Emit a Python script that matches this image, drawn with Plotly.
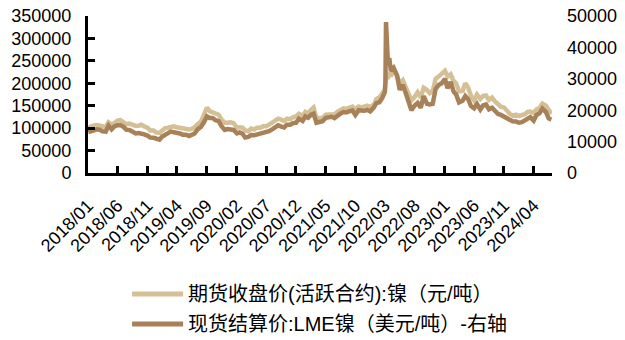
import plotly.graph_objects as go

# Semi-monthly observation dates (plus extra points around the March 2022 squeeze)
dates = [
    "2018-01-02","2018-01-16","2018-02-01","2018-02-16","2018-03-01","2018-03-16","2018-04-02","2018-04-16",
    "2018-05-02","2018-05-16","2018-06-01","2018-06-15","2018-07-02","2018-07-16","2018-08-01","2018-08-16",
    "2018-09-03","2018-09-17","2018-10-01","2018-10-16","2018-11-01","2018-11-16","2018-12-03","2018-12-17",
    "2019-01-02","2019-01-16","2019-02-01","2019-02-15","2019-03-01","2019-03-15","2019-04-01","2019-04-16",
    "2019-05-01","2019-05-16","2019-06-03","2019-06-17","2019-07-01","2019-07-16","2019-08-01","2019-08-16",
    "2019-09-02","2019-09-16","2019-10-01","2019-10-16","2019-11-01","2019-11-15","2019-12-02","2019-12-16",
    "2020-01-02","2020-01-16","2020-02-03","2020-02-17","2020-03-02","2020-03-16","2020-04-01","2020-04-16",
    "2020-05-01","2020-05-15","2020-06-01","2020-06-16","2020-07-01","2020-07-16","2020-08-03","2020-08-17",
    "2020-09-01","2020-09-16","2020-10-01","2020-10-16","2020-11-02","2020-11-16","2020-12-01","2020-12-16",
    "2021-01-04","2021-01-18","2021-02-01","2021-02-16","2021-03-01","2021-03-16","2021-04-01","2021-04-16",
    "2021-05-03","2021-05-17","2021-06-01","2021-06-16","2021-07-01","2021-07-16","2021-08-02","2021-08-16",
    "2021-09-01","2021-09-16","2021-10-01","2021-10-18","2021-11-01","2021-11-16","2021-12-01","2021-12-16",
    "2022-01-04","2022-01-17","2022-02-01","2022-02-16","2022-03-01","2022-03-04","2022-03-07","2022-03-16",
    "2022-03-25","2022-04-01","2022-04-15","2022-05-03","2022-05-16","2022-06-01","2022-06-16","2022-07-01",
    "2022-07-15","2022-08-01","2022-08-16","2022-09-01","2022-09-16","2022-10-03","2022-10-17","2022-11-01",
    "2022-11-16","2022-12-01","2022-12-16","2023-01-03","2023-01-16","2023-02-01","2023-02-16","2023-03-01",
    "2023-03-16","2023-04-03","2023-04-17","2023-05-02","2023-05-16","2023-06-01","2023-06-16","2023-07-03",
    "2023-07-17","2023-08-01","2023-08-16","2023-09-01","2023-09-15","2023-10-02","2023-10-16","2023-11-01",
    "2023-11-16","2023-12-01","2023-12-15","2024-01-02","2024-01-16","2024-02-01","2024-02-16","2024-03-01",
    "2024-03-15","2024-04-01","2024-04-16","2024-05-01","2024-05-16","2024-06-03","2024-06-17","2024-07-01",
]

# 期货收盘价(活跃合约):镍 (元/吨) - left axis
shfe_ni = [
    101000, 104000, 106000, 107000, 106000, 103000, 102500, 113000,
    108000, 111000, 117000, 118000, 114000, 109000, 110000, 107000,
    105000, 105500, 107500, 104000, 101000, 95000, 95000, 90000,
    89500, 95000, 100000, 101000, 103000, 104000, 102000, 101000,
    99000, 98500, 97000, 98500, 102000, 109000, 114000, 128000,
    146000, 138000, 135000, 132000, 130000, 120000, 112000, 112000,
    113000, 111000, 101000, 102000, 101000, 95000, 93000, 99000,
    97000, 101000, 101000, 104000, 104000, 108000, 113000, 118000,
    121000, 119000, 116000, 121000, 120000, 124000, 126000, 132000,
    127000, 136000, 133000, 141000, 146000, 122000, 123000, 123000,
    130000, 130000, 131000, 131000, 136000, 140000, 144000, 143000,
    146000, 148000, 141000, 148000, 146000, 148000, 150000, 147000,
    153000, 165000, 168000, 178000, 185000, 200000, 215000, 210000,
    225000, 215000, 232000, 215000, 200000, 207000, 190000, 172000,
    162000, 170000, 180000, 168000, 190000, 185000, 178000, 183000,
    210000, 215000, 220000, 228000, 215000, 220000, 205000, 200000,
    182000, 183000, 200000, 190000, 172000, 162000, 175000, 165000,
    172000, 173000, 163000, 168000, 160000, 152000, 148000, 146000,
    137000, 132000, 128000, 130000, 127000, 128000, 131000, 136000,
    137000, 134000, 142000, 145000, 155000, 150000, 140000, 132000,
]

# 现货结算价:LME镍 (美元/吨) - right axis
lme_ni = [
    13000, 13300, 13700, 13900, 13800, 13300, 13200, 15100,
    13900, 14800, 15200, 15300, 14700, 13800, 13700, 13200,
    12600, 12700, 12600, 12300, 11900, 11300, 11200, 10800,
    10600, 11600, 12400, 12700, 13200, 13000, 13000, 12600,
    12200, 12200, 11800, 12200, 12600, 13900, 14600, 16000,
    18000, 17500, 17500, 16800, 16500, 15000, 13700, 14000,
    14000, 13700, 12600, 12900, 12500, 11300, 11500, 12100,
    12000, 12200, 12400, 12700, 12800, 13300, 14000, 14800,
    15200, 14800, 14500, 15400, 15400, 15900, 16000, 17300,
    16600, 18000, 17600, 18600, 18900, 16000, 16100, 16500,
    17600, 17700, 17900, 17500, 18300, 18900, 19400, 19300,
    19700, 19900, 18500, 20000, 19900, 19800, 20100, 19600,
    20900, 22300, 22500, 23900, 25800, 29000, 48078, 36000,
    36000, 32500, 33500, 31000, 26500, 28000, 25500, 22500,
    20000, 21500, 22300, 20800, 24500, 22000, 21800, 22000,
    26800, 28000, 28500, 30000, 27000, 29000, 26000, 25000,
    22500, 23000, 24500, 23500, 21300, 20600, 22000, 20200,
    21500, 21800, 20300, 20800, 19800, 18800, 18500, 18000,
    17200, 17000, 16500, 16400, 16000, 16200, 16800, 17600,
    17800, 16700, 18500, 19000, 20500, 19400, 17400, 17000,
]

tick_dates = ["2018-01-01","2018-06-01","2018-11-01","2019-04-01","2019-09-01","2020-02-01",
              "2020-07-01","2020-12-01","2021-05-01","2021-10-01","2022-03-01","2022-08-01",
              "2023-01-01","2023-06-01","2023-11-01","2024-04-01"]
tick_labels = ["2018/01","2018/06","2018/11","2019/04","2019/09","2020/02","2020/07","2020/12",
               "2021/05","2021/10","2022/03","2022/08","2023/01","2023/06","2023/11","2024/04"]

name_left = "期货收盘价(活跃合约):镍（元/吨）"
name_right = "现货结算价:LME镍（美元/吨）-右轴"
color_left = "#D5C096"
color_right = "#A98159"

FONT = "Liberation Sans, Arial, Noto Sans CJK SC, sans-serif"

fig = go.Figure()
fig.add_trace(go.Scatter(x=dates, y=shfe_ni, name=name_left, mode="lines",
                         line=dict(color=color_left, width=4.5), yaxis="y"))
fig.add_trace(go.Scatter(x=dates, y=lme_ni, name=name_right, mode="lines",
                         line=dict(color=color_right, width=4.5), yaxis="y2"))

# Legend drawn below the plot (long line swatches like the original)
legend_rows = [(name_left, color_left, -0.771), (name_right, color_right, -0.962)]
for label, col, yy in legend_rows:
    fig.add_shape(type="line", xref="paper", yref="paper", x0=0.095, x1=0.205, y0=yy, y1=yy,
                  line=dict(color=col, width=5))
    fig.add_annotation(xref="paper", yref="paper", x=0.212, y=yy, text=label, showarrow=False,
                       xanchor="left", yanchor="middle",
                       font=dict(family=FONT, size=20, color="#000000"))

fig.update_layout(
    width=625, height=340,
    margin=dict(l=88, r=73, t=16, b=167, autoexpand=False),
    paper_bgcolor="white", plot_bgcolor="white",
    font=dict(family=FONT, size=18, color="#000000"),
    showlegend=False,
    xaxis=dict(type="date", range=["2018-01-01", "2024-07-04"], automargin=False,
               tickmode="array", tickvals=tick_dates, ticktext=tick_labels,
               tickangle=-45, ticks="inside", ticklen=7, tickwidth=3, tickcolor="black",
               showline=True, linecolor="black", linewidth=3, showgrid=False,
               zeroline=False, ticklabelstandoff=12, ticklabeloverflow="allow"),
    yaxis=dict(range=[0, 350000], dtick=50000, tickformat="d", automargin=False,
               ticks="inside", ticklen=7, tickwidth=3, tickcolor="black",
               showline=True, linecolor="black", linewidth=3, showgrid=False,
               zeroline=False, ticklabelstandoff=10, ticklabeloverflow="allow"),
    yaxis2=dict(range=[0, 50000], dtick=10000, tickformat="d", overlaying="y", side="right",
                automargin=False, showline=False, ticks="", showgrid=False, zeroline=False,
                ticklabelstandoff=14, ticklabeloverflow="allow"),
)

# Remove the browser's default 8px page margin so the 625x340 figure fills the window exactly
fig.write_html("out.html", config={"displayModeBar": False},
               post_script="document.body.style.margin='0px';document.body.style.overflow='hidden';")
